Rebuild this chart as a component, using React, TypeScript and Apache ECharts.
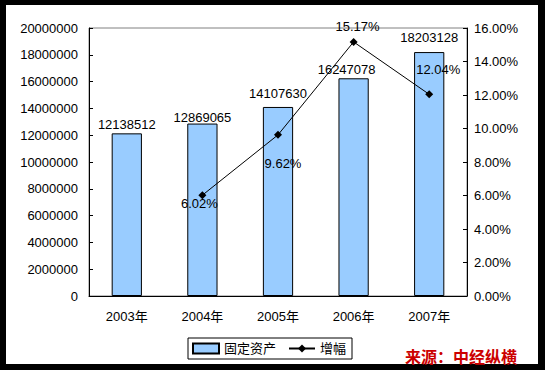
import React, { useEffect, useRef } from "react";
import * as echarts from "echarts";

const categories = ["2003年", "2004年", "2005年", "2006年", "2007年"];
const assetValues = [12138512, 12869065, 14107630, 16247078, 18203128];
const growthValues: (number | null)[] = [null, 6.02, 9.62, 15.17, 12.04];
const barLabelDistance = [2, 0, 7, 2, 8];
const barLabelDx = [0, 0, 0, -7, 0];
const lineLabelOffsets: [number, number][] = [[0, 0], [-3, 8], [5, 29], [4, -15], [9, -25]];

const FONT = '"Liberation Sans", Arial, "Noto Sans CJK SC", sans-serif';

export default function App() {
  const ref = useRef<HTMLDivElement>(null);
  useEffect(() => {
    document.body.style.margin = "0";
    if (!ref.current) return;
    const chart = echarts.init(ref.current, undefined, { renderer: "svg" });
    chart.setOption({
      animation: false,
      backgroundColor: "#ffffff",
      textStyle: { fontFamily: FONT },
      grid: {
        left: 89,
        right: 78,
        top: 28,
        bottom: 74,
        show: true,
        borderColor: "#808080",
        borderWidth: 1,
      },
      legend: {
        bottom: 11,
        left: 188,
        itemGap: 12,
        itemWidth: 26,
        itemHeight: 10,
        padding: [4, 6, 4, 4],
        borderColor: "#000",
        borderWidth: 1,
        textStyle: { fontSize: 13, color: "#000", fontFamily: FONT },
        data: [
          { name: "固定资产", icon: "rect" },
          { name: "增幅" },
        ],
      },
      xAxis: {
        type: "category",
        data: categories,
        axisLine: { lineStyle: { color: "#000", width: 1 } },
        axisTick: { inside: true, length: 4, lineStyle: { color: "#000" } },
        axisLabel: { color: "#000", fontSize: 13, margin: 14, fontFamily: FONT },
      },
      yAxis: [
        {
          type: "value",
          min: 0,
          max: 20000000,
          interval: 2000000,
          axisLine: { show: true, lineStyle: { color: "#000" } },
          axisTick: { show: true, inside: true, length: 4, lineStyle: { color: "#000" } },
          splitLine: { show: false },
          axisLabel: {
            color: "#000",
            fontSize: 13,
            margin: 11,
            fontFamily: FONT,
            formatter: (v: number) => String(v),
          },
        },
        {
          type: "value",
          min: 0,
          max: 16,
          interval: 2,
          position: "right",
          axisLine: { show: true, lineStyle: { color: "#000" } },
          axisTick: { show: true, inside: true, length: 4, lineStyle: { color: "#000" } },
          splitLine: { show: false },
          axisLabel: {
            color: "#000",
            fontSize: 13,
            margin: 7,
            fontFamily: FONT,
            formatter: (v: number) => v.toFixed(2) + "%",
          },
        },
      ],
      series: [
        {
          name: "固定资产",
          type: "bar",
          barWidth: "40%",
          itemStyle: { color: "#99CCFF", borderColor: "#000", borderWidth: 1 },
          data: assetValues.map((v, i) => ({
            value: v,
            label: {
              show: true,
              position: "top",
              distance: barLabelDistance[i],
              offset: [barLabelDx[i], 0],
              color: "#000",
              fontSize: 13,
              fontFamily: FONT,
            },
          })),
          z: 2,
        },
        {
          name: "增幅",
          type: "line",
          yAxisIndex: 1,
          symbol: "diamond",
          symbolSize: 8,
          lineStyle: { color: "#000", width: 1 },
          itemStyle: { color: "#000" },
          data: growthValues.map((v, i) =>
            v === null
              ? null
              : {
                  value: v,
                  label: {
                    show: true,
                    position: "inside",
                    offset: lineLabelOffsets[i],
                    color: "#000",
                    fontSize: 13,
                    fontFamily: FONT,
                    formatter: (p: any) => Number(p.value).toFixed(2) + "%",
                  },
                }
          ),
          z: 3,
        },
      ],
      graphic: [
        { type: "rect", left: 0, top: 0, shape: { width: 545, height: 5 }, style: { fill: "#000" } },
        { type: "rect", left: 0, top: 364, shape: { width: 545, height: 6 }, style: { fill: "#000" } },
        { type: "rect", left: 0, top: 0, shape: { width: 6, height: 370 }, style: { fill: "#000" } },
        { type: "rect", left: 538, top: 0, shape: { width: 7, height: 370 }, style: { fill: "#000" } },
        {
          type: "text",
          left: 405,
          top: 348,
          style: {
            text: "来源：中经纵横",
            fill: "#cc0000",
            font: 'bold 16px "Noto Sans CJK SC", sans-serif',
          },
        },
      ],
    });
    return () => chart.dispose();
  }, []);
  return <div ref={ref} style={{ width: 545, height: 370 }} />;
}
